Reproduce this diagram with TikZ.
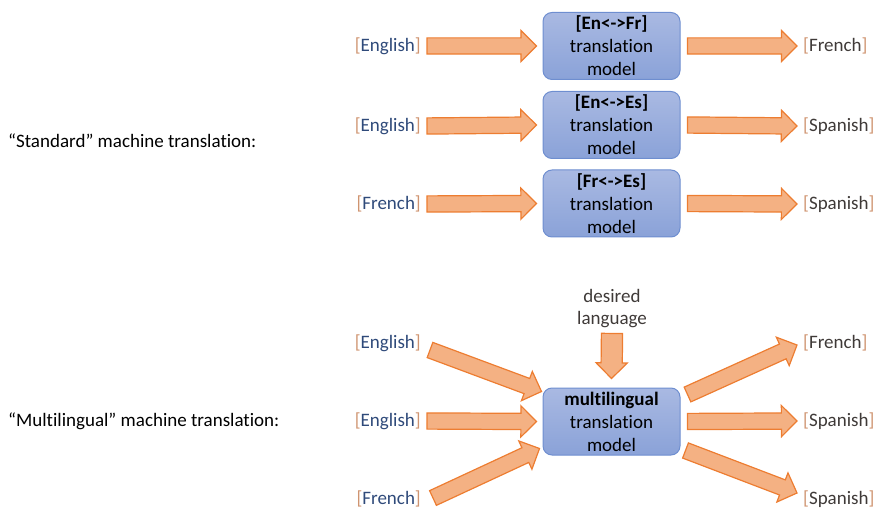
\documentclass[tikz,border=0pt]{standalone}
\usepackage{fontspec}
\setmainfont{Carlito}[Ligatures=NoCommon]
\usetikzlibrary{shapes.arrows, calc}

\definecolor{arrfill}{HTML}{F4B183}
\definecolor{arrdraw}{HTML}{ED7D31}
\definecolor{boxtop}{HTML}{A9B9E2}
\definecolor{boxbot}{HTML}{8AA2D8}
\definecolor{boxdraw}{HTML}{6E8ED0}
\definecolor{srctext}{HTML}{2F4A7A}
\definecolor{tgttext}{HTML}{3F3A38}
\definecolor{brack}{HTML}{CF9470}

\tikzset{
	model/.style={rectangle, rounded corners=9pt, draw=boxdraw, line width=1pt, top color=boxtop, bottom color=boxbot,
		minimum width=137pt, minimum height=67pt, align=center, inner sep=0pt,
		font=\fontsize{19}{23}\selectfont},
	src/.style={anchor=east, inner sep=0pt, text=srctext, font=\fontsize{19}{23}\selectfont},
	tgt/.style={anchor=west, inner sep=0pt, text=tgttext, font=\fontsize{19}{23}\selectfont},
	caption/.style={anchor=west, inner sep=0pt, font=\fontsize{19}{23}\selectfont},
	fat/.style={single arrow, draw=arrdraw, line width=1.2pt, fill=arrfill, inner xsep=0pt, inner ysep=7.5pt,
		outer sep=0pt, single arrow head extend=7.5pt},
	fatdown/.style={fat, inner ysep=10pt, single arrow head extend=5pt}
}

\newcommand{\lang}[1]{{\color{brack}[}#1{\color{brack}]}}
\newcommand{\fatarrow}[3][]{%
	\path let \p1=($(#3)-(#2)$), \n1={atan2(\y1,\x1)}, \n2={veclen(\x1,\y1)} in
		node[fat, #1, rotate=\n1, minimum height=\n2, anchor=tail] at (#2) {};}

\begin{document}
\begin{tikzpicture}[x=1pt, y=-1pt]
	\useasboundingbox (0,0) rectangle (882,518);

	% standard translation
	\node[caption] (std) at (8,141) {``Standard'' machine translation:};
	\node[model] (enfr) at (611.5,46) {\textbf{[En<->Fr]}\\translation\\model};
	\node[model] (enes) at (611.5,125) {\textbf{[En<->Es]}\\translation\\model};
	\node[model] (fres) at (611.5,203.5) {\textbf{[Fr<->Es]}\\translation\\model};
	\node[src] (en1) at (421,46) {\lang{English}};
	\node[src] (en2) at (421,126) {\lang{English}};
	\node[src] (fr1) at (421,204) {\lang{French}};
	\node[tgt] (fr2) at (803,46) {\lang{French}};
	\node[tgt] (es1) at (803,126) {\lang{Spanish}};
	\node[tgt] (es2) at (803,204) {\lang{Spanish}};

	\foreach \a/\b/\c in {en1/enfr/fr2, en2/enes/es1, fr1/fres/es2} {
		\coordinate (t1) at ($(\a.east)+(6,0)$);
		\coordinate (h1) at ($(\b.west)+(-6,0)$);
		\coordinate (t2) at ($(\b.east)+(7,0)$);
		\coordinate (h2) at ($(\c.west)+(-6,0)$);
		\fatarrow{t1}{h1}
		\fatarrow{t2}{h2}
	}

	% multilingual translation
	\node[caption] (mult) at (8,421) {``Multilingual'' machine translation:};
	\node[model] (multi) at (611.5,421.5) {\textbf{multilingual}\\translation\\model};
	\node[align=center, inner sep=0pt, text=tgttext, font=\fontsize{19}{22}\selectfont] (want) at (612,309) {desired\\language};
	\node[src] (en3) at (421,343) {\lang{English}};
	\node[src] (en4) at (421,421) {\lang{English}};
	\node[src] (fr3) at (421,499) {\lang{French}};
	\node[tgt] (fr4) at (803,343) {\lang{French}};
	\node[tgt] (es3) at (803,421) {\lang{Spanish}};
	\node[tgt] (es4) at (803,499) {\lang{Spanish}};

	\coordinate (w1) at ($(want.south)+(0,5)$);
	\coordinate (w2) at ($(multi.north)+(0,-9)$);
	\coordinate (a1) at ($(en3.east)+(9,7)$);
	\coordinate (a2) at ($(multi.north west)+(-1,4)$);
	\coordinate (b1) at ($(en4.east)+(6,0)$);
	\coordinate (b2) at ($(multi.west)+(-6,0)$);
	\coordinate (c1) at ($(fr3.east)+(12,-1)$);
	\coordinate (c2) at ($(multi.south west)+(-3,-7)$);
	\coordinate (d1) at ($(multi.north east)+(7,7)$);
	\coordinate (d2) at ($(fr4.west)+(-6,2)$);
	\coordinate (e1) at ($(multi.east)+(7,0)$);
	\coordinate (e2) at ($(es3.west)+(-6,0)$);
	\coordinate (f1) at ($(multi.south east)+(5,-5)$);
	\coordinate (f2) at ($(es4.west)+(-6,-6)$);

	\fatarrow[fatdown]{w1}{w2}
	\fatarrow{a1}{a2}
	\fatarrow{b1}{b2}
	\fatarrow{c1}{c2}
	\fatarrow{d1}{d2}
	\fatarrow{e1}{e2}
	\fatarrow{f1}{f2}
\end{tikzpicture}
\end{document}
